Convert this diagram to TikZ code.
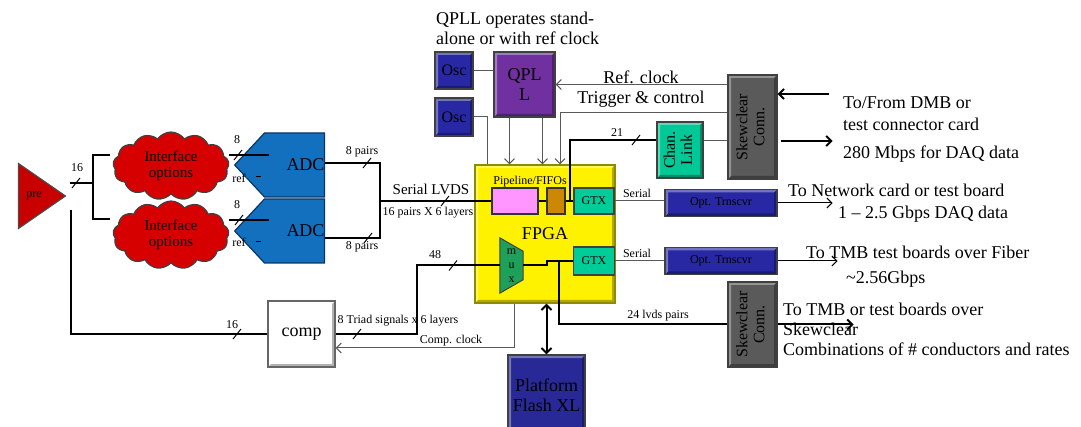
\documentclass[tikz,border=0pt]{standalone}
\usepackage{fontspec}
\setmainfont{Liberation Serif}
\usetikzlibrary{arrows.meta,positioning,calc,shapes.geometric,shapes.symbols}
\definecolor{prered}{RGB}{200,0,0}
\definecolor{cloudred}{RGB}{215,0,0}
\definecolor{adcblue}{RGB}{18,112,190}
\definecolor{adcedge}{RGB}{10,55,100}
\definecolor{oscblue}{RGB}{40,40,165}
\definecolor{qpllpurple}{RGB}{112,48,160}
\definecolor{linkteal}{RGB}{0,200,150}
\definecolor{skewgray}{RGB}{90,90,90}
\definecolor{fpgaedge}{RGB}{140,140,0}
\definecolor{pipepink}{RGB}{255,150,255}
\definecolor{fifobrown}{RGB}{204,136,0}
\definecolor{gtxteal}{RGB}{0,204,153}
\definecolor{muxgreen}{RGB}{30,160,90}
\definecolor{flashblue}{RGB}{40,40,150}
\newcommand{\fsbig}{\fontsize{18}{20}\selectfont}
\newcommand{\fsmid}{\fontsize{16}{17}\selectfont}
\newcommand{\fssmall}{\fontsize{12}{14}\selectfont}
\newcommand{\vlabel}[1]{\rotatebox{90}{\begin{tabular}{@{}c@{}}#1\end{tabular}}}

\begin{document}
\begin{tikzpicture}[
    x=1pt, y=-1pt,
    bevel/.style={path picture={
        \fill[white, opacity=.35] (path picture bounding box.north west) -- (path picture bounding box.north east)
            -- ++(-3,3) -| ([shift={(3,-3)}]path picture bounding box.south west) -- (path picture bounding box.south west) -- cycle;
        \fill[black, opacity=.3] (path picture bounding box.south east) -- (path picture bounding box.north east)
            -- ++(-3,3) |- ([shift={(3,-3)}]path picture bounding box.south west) -- (path picture bounding box.south west) -- cycle;}},
    chip/.style={draw=black!75, line width=1.2pt, inner sep=1pt, align=center, font=\fsbig},
    tinychip/.style={chip, font=\fssmall},
    puff/.style={cloud, cloud puffs=13, cloud puff arc=110, aspect=1.8, draw=black!75, line width=1.2pt,
        fill=cloudred, inner sep=0pt, minimum width=116pt, minimum height=68pt, align=center,
        font=\fontsize{15}{16}\selectfont},
    adc/.style={signal, signal to=west, signal pointer angle=94, draw=adcedge, line width=1.2pt,
        fill=adcblue, minimum width=85pt, minimum height=64pt, inner sep=0pt, font=\fsbig},
    note/.style={inner sep=0pt, font=\fsbig, align=left},
    tag/.style={inner sep=0pt, font=\fssmall},
    bus/.style={line width=2pt},
    sig/.style={line width=1pt, draw=black!65},
    busmark/.pic={\draw[line width=1pt] (-4,5) -- (4,-5);},
    >={Straight Barb[length=5pt,width=10pt]}
]
  \useasboundingbox (0,0) rectangle (1081,427);

  % front end
  \node[isosceles triangle, isosceles triangle stretches, minimum width=65pt, minimum height=47pt,
        inner sep=0pt, anchor=apex, draw=black!70, line width=1.2pt, fill=prered, font=\fssmall] (pre) at (67,196) {pre\hspace*{4pt}};
  \node[puff] (ifa) at (171,166) {Interface\\options};
  \node[puff] (ifb) at (171,235) {Interface\\options};
  \node[adc] (adca) at (294.5,165) {\hspace*{22pt}ADC};
  \node[adc] (adcb) at (294.5,231) {\hspace*{22pt}ADC};

  % clocking
  \node[chip, bevel, fill=oscblue, minimum width=38pt, minimum height=37pt, font=\fsmid] (osca) at (454,70.5) {Osc};
  \node[chip, bevel, fill=oscblue, minimum width=38pt, minimum height=38pt, font=\fsmid] (oscb) at (454,117) {Osc};
  \node[chip, bevel, fill=qpllpurple, minimum width=61pt, minimum height=65pt] (qpll) at (524.5,84.5) {QPL\\L};

  % fpga
  \node[chip, bevel, draw=fpgaedge, fill=yellow, minimum width=140pt, minimum height=138pt] (fpga) at (545,234) {FPGA};
  \node[chip, draw=black!80, fill=pipepink, minimum width=46pt, minimum height=26pt] (pipe) at (515,201) {};
  \node[chip, draw=black!80, fill=fifobrown, minimum width=18pt, minimum height=26pt] (fifo) at (556,201) {};
  \node[tag] (pipelbl) at (530,182) {Pipeline/FIFOs};
  \node[tinychip, fill=gtxteal, minimum width=40pt, minimum height=26pt] (gtxa) at (594,201) {GTX};
  \node[tinychip, fill=gtxteal, minimum width=41pt, minimum height=28pt] (gtxb) at (594,261) {GTX};
  \node[minimum width=23pt, minimum height=55pt, inner sep=0pt] (mux) at (511.5,265.5) {};
  \filldraw[fill=muxgreen, draw=black!75, line width=1pt] (mux.north west) -- ([shift={(0,13.5)}]mux.north east)
      -- ([shift={(0,-13.5)}]mux.south east) -- (mux.south west) -- cycle;
  \node[tag, align=center] (muxlbl) at (mux.center) {m\\u\\x};

  % outputs
  \node[chip, bevel, fill=linkteal, minimum width=46pt, minimum height=56pt, font=\fsmid] (chan) at (680,150) {\vlabel{Chan.\\Link}};
  \node[chip, bevel, fill=skewgray, minimum width=49pt, minimum height=104pt, font=\fsmid] (skwa) at (752.5,127) {\vlabel{Skewclear\\Conn.}};
  \node[tinychip, bevel, fill=oscblue, minimum width=112pt, minimum height=27pt] (opta) at (721,203) {Opt. Trnscvr};
  \node[tinychip, bevel, fill=oscblue, minimum width=112pt, minimum height=27pt] (optb) at (721,261) {Opt. Trnscvr};
  \node[chip, bevel, fill=skewgray, minimum width=49pt, minimum height=85pt, font=\fsmid] (skwb) at (752.5,324.5) {\vlabel{Skewclear\\Conn.}};
  \node[chip, bevel, fill=white, draw=black!60, minimum width=67pt, minimum height=66pt] (comp) at (301.5,334) {comp};
  \node[chip, bevel, fill=flashblue, minimum width=77pt, minimum height=80pt] (flash) at (546.5,395) {Platform\\Flash XL};

  % notes
  \node[note, anchor=west] (qnote) at (436,28) {QPLL operates stand-\\alone or with ref clock};
  \node[note] (refclk) at (641,77) {Ref. clock};
  \node[note] (trig) at (641,99) {Trigger \& control};
  \node[note, anchor=west] (dmb) at (843,114) {To/From DMB or\\[2pt]test connector card};
  \node[note, anchor=west] (daq) at (843,154) {280 Mbps for DAQ data};
  \node[note, anchor=west] (net) at (788,190) {To Network card or test board};
  \node[note, anchor=west] (gbps) at (838,214) {1 -- 2.5 Gbps DAQ data};
  \node[note, anchor=west] (fiber) at (806,252) {To TMB test boards over Fiber};
  \node[note, anchor=west] (rate) at (846,279) {\textasciitilde2.56Gbps};
  \node[note, anchor=west] (tmb) at (783,329) {To TMB or test boards over\\Skewclear\\Combinations of \# conductors and rates};
  \node[tag] (n16a) at (77,168) {16};
  \node[tag] (n8a) at (237,140) {8};
  \node[tag] (refa) at (239,178) {ref};
  \node[tag] (n8b) at (237,205) {8};
  \node[tag] (refb) at (239,242) {ref};
  \node[tag] (pairsa) at (362,152) {8 pairs};
  \node[tag] (pairsb) at (362,247) {8 pairs};
  \node[inner sep=0pt, font=\fontsize{15}{17}\selectfont] (lvds) at (431,189) {Serial LVDS};
  \node[tag] (layers) at (428,213) {16 pairs X 6 layers};
  \node[tag] (n48) at (435,255) {48};
  \node[tag] (n21) at (617,133) {21};
  \node[tag] (sera) at (637,193) {Serial};
  \node[tag] (serb) at (637,253) {Serial};
  \node[tag] (lvdsp) at (658,316) {24 lvds pairs};
  \node[tag] (n16b) at (232,325) {16};
  \node[tag] (triad) at (398,321) {8 Triad signals x 6 layers};
  \node[tag] (cclk) at (451,341) {Comp. clock};

  \coordinate (fork) at (93,183);
  \coordinate (join) at (380,201);
  \coordinate (bend) at (417,300);

  % front end wiring
  \draw[bus] ([shift={(3,-13)}]pre.apex) -- (fork);
  \draw[bus] ([shift={(-3,-11)}]ifa.west) -| (fork) |- ([shift={(-3,-16)}]ifb.west);
  \draw[bus] ([shift={(0,-11)}]ifa.east) -- ++(40,0);
  \draw[bus] ([shift={(0,-15)}]ifb.east) -- ++(40,0);
  \draw[sig] (refa.east) -- ++(14,0);
  \draw[sig] (refb.east) -- ++(14,0);
  \draw[line width=1pt] ([shift={(-70,-10)}]adca.east) -- ++(6,0);
  \draw[line width=1pt] ([shift={(-69,12)}]adca.east) -- ++(5,0);
  \draw[line width=1pt] ([shift={(-70,-11)}]adcb.east) -- ++(6,0);
  \draw[line width=1pt] ([shift={(-69,11)}]adcb.east) -- ++(5,0);
  \draw[bus] ([shift={(0,-2)}]adca.east) -| (join) |- ([shift={(0,7)}]adcb.east);
  \draw[bus] (join) -- (pipe.west);
  \draw[bus] (pipe.east) -- (fifo.west);
  \draw[bus] (fifo.east) -- (gtxa.west);

  % clocks and control
  \draw[sig, ->] (skwa.west |- qpll.east) -- (qpll.east);
  \draw[sig, ->] ([shift={(0,-14)}]skwa.west) -| ([shift={(15,0)}]fpga.north);
  \draw[sig, ->] ([shift={(-15,0)}]qpll.south) -- ([shift={(-15,0)}]qpll.south |- fpga.north);
  \draw[sig, ->] ([shift={(18,0)}]qpll.south) -- ([shift={(18,0)}]qpll.south |- fpga.north);
  \draw[sig] (osca.east) -- (osca.east -| qpll.west);
  \draw[sig] (oscb.east) -| ([shift={(-58,0)}]fpga.north);

  % readout
  \coordinate (tapa) at ($(fifo.east)!0.5!(gtxa.west)$);
  \draw[bus] (tapa) |- ([shift={(0,-10)}]chan.west);
  \draw[sig] ([shift={(0,-9)}]chan.east) -- ([shift={(0,-9)}]chan.east -| skwa.west);
  \draw[bus, <-] ([shift={(0,-33)}]skwa.east) -- ++(51,0);
  \draw[bus, ->] ([shift={(3,14)}]skwa.east) -- ++(52,0);
  \draw[sig] (gtxa.east) -- (gtxa.east -| opta.west);
  \draw[black, line width=1pt, ->] (opta.east) -- ++(55,0);
  \draw[sig] (gtxb.east) -- (gtxb.east -| optb.west);
  \draw[black, line width=1pt, ->] (optb.east) -- ++(60,0);
  \draw[bus] (mux.east) -| ([shift={(-26,0)}]gtxb.west) -- (gtxb.west);
  \coordinate (tapb) at ([shift={(-14,0)}]gtxb.west);
  \draw[bus] (tapb) |- (skwb.west);
  \draw[bus, ->] (skwb.east) -- ++(76,0);

  % trigger primitives
  \draw[bus] (comp.east) -| (bend) |- (mux.west);
  \draw[sig, ->] ([shift={(-31,0)}]fpga.south) |- ([shift={(0,14)}]comp.east);
  \draw[bus] ([shift={(4,14)}]pre.apex) |- (comp.west);
  \draw[bus, <->] (flash.north) -- (flash.north |- fpga.south);

  \foreach \x/\y in {76/183, 238/155, 239/220, 367/163, 368/238, 445/201, 453/265.5, 636/140, 237/334, 357/334}
    \pic at (\x,\y) {busmark};
\end{tikzpicture}
\end{document}
